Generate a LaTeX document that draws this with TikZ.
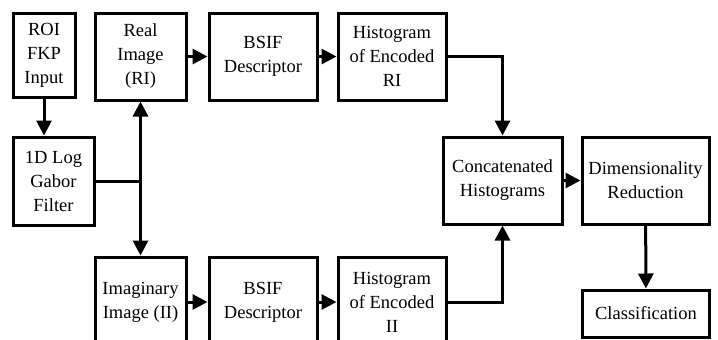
\documentclass[tikz,border=0pt]{standalone}
\usepackage{fontspec}
\setmainfont{Liberation Serif}
\usetikzlibrary{arrows.meta}
\begin{document}
\begin{tikzpicture}[
                x=0.5pt, y=-0.5pt,
                block/.style={draw, line width=1.5pt, align=center, inner sep=2pt,
                        font=\fontsize{9.25}{12}\selectfont},
                stage/.style={block, minimum width=54pt, minimum height=43.5pt},
                flow/.style={line width=1.5pt, -{Triangle[length=7.5pt,width=7.5pt]}}
            ]

            \clip (0,0) rectangle (718,339);

            \node[block, minimum width=31pt, minimum height=42pt] (roi) at (44,55) {ROI\\FKP\\Input};
            \node[block, minimum width=40.5pt, minimum height=44pt] (gabor) at (53.5,181) {1D Log\\Gabor\\Filter};

            \node[stage, minimum width=45.5pt] (ri) at (140.5,56.5) {Real\\Image\\(RI)};
            \node[stage] (bsifri) at (263,56.5) {BSIF\\Descriptor};
            \node[stage] (histri) at (392,56.5) {Histogram\\of Encoded\\RI};

            \node[stage, minimum width=45.5pt, minimum height=45pt] (ii) at (140.5,302) {Imaginary\\Image (II)};
            \node[stage, minimum height=45pt] (bsifii) at (263,302) {BSIF\\Descriptor};
            \node[stage, minimum height=45pt] (histii) at (392,302) {Histogram\\of Encoded\\II};

            \node[block, minimum width=59.5pt, minimum height=43.5pt] (concat) at (502.5,180.5) {Concatenated\\Histograms};
            \node[block, minimum width=63.5pt, minimum height=43.5pt] (dimred) at (645.5,180.5) {Dimensionality\\Reduction};
            \node[block, minimum width=63.5pt, minimum height=23.5pt] (classif) at (646,313.5) {Classification};

            \coordinate (split) at (gabor.east -| ri.south);

            \draw[flow] (roi.south) -- (roi.south |- gabor.north);
            \draw[line width=1.5pt] (gabor.east) -- (split);
            \draw[flow] (split) -- (ri.south);
            \draw[flow] (split) -- (ii.north);

            \draw[flow] (ri) -- (bsifri);
            \draw[flow] (bsifri) -- (histri);
            \draw[flow] (ii) -- (bsifii);
            \draw[flow] (bsifii) -- (histii);

            \draw[flow] (histri.east) -| (concat.north);
            \draw[flow] (histii.east) -| (concat.south);
            \draw[flow] (concat) -- (dimred);
            \draw[flow] (dimred) -- (classif);

        \end{tikzpicture}
\end{document}
